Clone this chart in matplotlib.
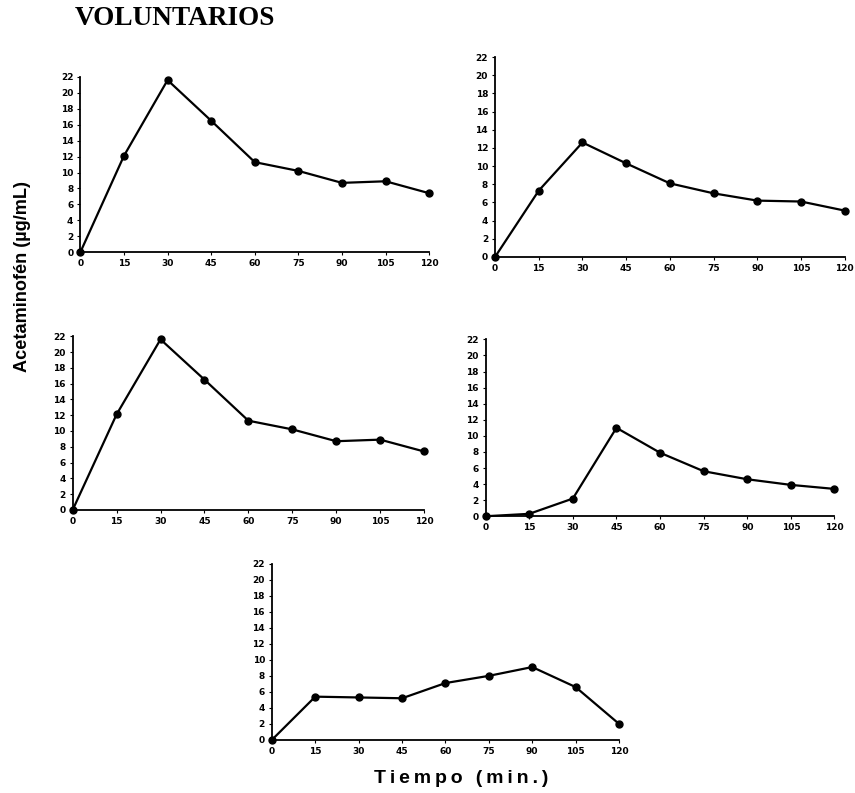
import matplotlib
matplotlib.use("Agg")
import matplotlib.pyplot as plt

tiempo = [0, 15, 30, 45, 60, 75, 90, 105, 120]

vol_1 = [0, 12.1, 21.6, 16.5, 11.3, 10.2, 8.7, 8.9, 7.4]
vol_2 = [0, 7.3, 12.6, 10.3, 8.1, 7.0, 6.2, 6.1, 5.1]
vol_3 = [0, 12.1, 21.6, 16.5, 11.3, 10.2, 8.7, 8.9, 7.4]
vol_4 = [0, 0.3, 2.2, 11.0, 7.9, 5.6, 4.6, 3.9, 3.4]
vol_5 = [0, 5.4, 5.3, 5.2, 7.1, 8.0, 9.1, 6.6, 2.0]

y_ticks = list(range(0, 23, 2))

# panel positions (left, bottom, width, height) in figure fraction
panels = [
    (vol_1, [0.094, 0.682, 0.408, 0.221]),
    (vol_2, [0.579, 0.676, 0.409, 0.252]),
    (vol_3, [0.085, 0.357, 0.411, 0.219]),
    (vol_4, [0.568, 0.349, 0.408, 0.223]),
    (vol_5, [0.318, 0.067, 0.406, 0.222]),
]

fig = plt.figure(figsize=(8.55, 7.93), dpi=100)

for values, rect in panels:
    ax = fig.add_axes(rect)
    ax.plot(tiempo, values, color="black", lw=1.6, marker="o", ms=5,
            clip_on=False, zorder=3)
    ax.set_xlim(0, 120)
    ax.set_ylim(0, 22)
    ax.set_xticks(tiempo)
    ax.set_yticks(y_ticks)
    ax.spines["top"].set_visible(False)
    ax.spines["right"].set_visible(False)
    ax.spines["left"].set_linewidth(1.3)
    ax.spines["bottom"].set_linewidth(1.3)
    ax.tick_params(length=2, width=0.8, pad=3)
    for lbl in ax.get_xticklabels() + ax.get_yticklabels():
        lbl.set_fontsize(6.5)
        lbl.set_fontweight("bold")

fig.text(0.088, 0.977, "VOLUNTARIOS", family="Liberation Serif",
         fontweight="bold", fontsize=19.6, ha="left", va="center")
fig.text(0.026, 0.651, "Acetaminofén (µg/mL)", family="Liberation Sans",
         fontweight="bold", fontsize=13.1, rotation=90, ha="center", va="center")
# the original x label is letter-spaced, thin spaces between the glyphs
x_label = "\u2009".join("Tiempo (min.)")
fig.text(0.539, 0.018, x_label, family=["Liberation Sans", "DejaVu Sans"],
         fontweight="bold", fontsize=14, ha="center", va="center")

fig.savefig("out.png", dpi=100)
